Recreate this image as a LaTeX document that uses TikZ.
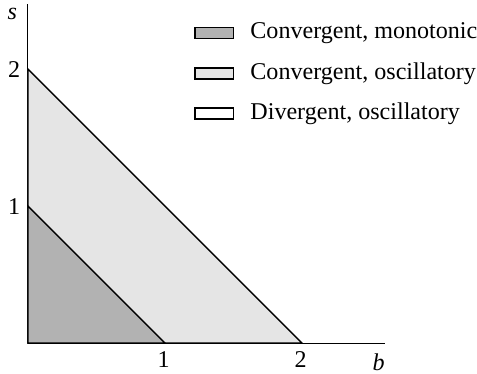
\documentclass[tikz,border=0pt]{standalone}
\usepackage{fontspec}
\setmainfont{Liberation Serif}
\definecolor{monofill}{gray}{0.70}
\definecolor{oscfill}{gray}{0.90}
\begin{document}
\begin{tikzpicture}[x=2cm,y=2cm,
        region/.style={draw,line width=0.55pt},
        legbox/.style={draw,line width=0.6pt,minimum width=0.56cm,minimum height=0.16cm,inner sep=0pt},
        legtext/.style={anchor=west,inner sep=0pt}]
        \useasboundingbox (-0.204,-0.219) rectangle (3.277,2.504);
        % axes
        \coordinate (o) at (0,0);
        \coordinate (xend) at (2.606,0);
        \coordinate (yend) at (0,2.474);
        \draw[line width=0.4pt] (o) -- (xend);
        \draw[line width=0.4pt] (o) -- (yend);
        % regions
        \coordinate (b1) at (1,0);
        \coordinate (b2) at (2,0);
        \coordinate (s1) at (0,1);
        \coordinate (s2) at (0,2);
        \filldraw[region,fill=oscfill] (o) -- (b2) -- (s2) -- cycle;
        \filldraw[region,fill=monofill] (o) -- (b1) -- (s1) -- cycle;
        % tick labels
        \path (-0.10,2.0) node (ls2) {2};
        \path (-0.10,1.0) node (ls1) {1};
        \path (0.99,-0.12) node (lb1) {1};
        \path (1.99,-0.12) node (lb2) {2};
        \path (-0.115,2.40) node (ls) {\textit{s}};
        \path (2.56,-0.14) node[inner sep=1pt] (lb) {\textit{b}};
        % legend
        \node[legbox,fill=monofill] (kmono) at (1.36,2.263) {};
        \node[legbox,fill=oscfill] (kosc) at (1.36,1.968) {};
        \node[legbox,fill=white] (kdiv) at (1.36,1.676) {};
        \node[legtext] (tmono) at (1.62,2.263) {Convergent, monotonic};
        \node[legtext] (tosc) at (1.62,1.968) {Convergent, oscillatory};
        \node[legtext] (tdiv) at (1.62,1.676) {Divergent, oscillatory};
\end{tikzpicture}
\end{document}
